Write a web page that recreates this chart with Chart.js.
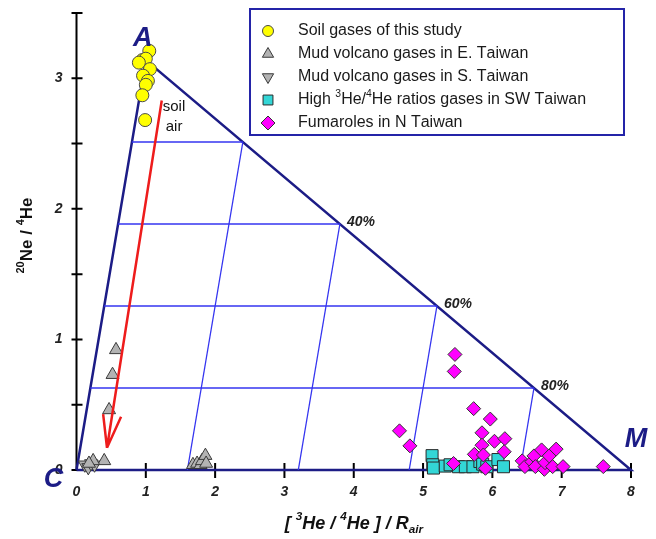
<!DOCTYPE html>
<html>
<head>
<meta charset="utf-8">
<script src="https://cdn.jsdelivr.net/npm/chart.js@4.4.0/dist/chart.umd.min.js"></script>
<style>
  html, body { margin: 0; padding: 0; background: #fff; }
</style>
</head>
<body>
<canvas id="neChart" width="656" height="539"></canvas>
<script>
// ---- data ----
const soilX = [1.05, 0.95, 1.00, 0.90, 1.06, 0.96, 1.03, 1.00, 0.95, 0.99];
const soilY = [3.21, 3.14, 3.15, 3.12, 3.07, 3.02, 2.98, 2.95, 2.87, 2.68];

const mudEastX = [0.57, 0.52, 0.47, 0.40, 0.24, 0.18, 1.68, 1.74, 1.79, 1.81, 1.86, 1.87];
const mudEastY = [0.92, 0.73, 0.46, 0.07, 0.07, 0.05, 0.04, 0.05, 0.04, 0.07, 0.11, 0.05];

const mudSouthX = [0.12, 0.17, 0.21, 0.26];
const mudSouthY = [0.04, 0.02, 0.05, 0.04];

const highHeX = [5.13, 5.14, 5.15, 5.32, 5.39, 5.51, 5.61, 5.72, 5.82, 5.86, 5.92, 6.08, 6.16];
const highHeY = [0.11, 0.04, 0.015, 0.03, 0.04, 0.025, 0.025, 0.025, 0.065, 0.045, 0.025, 0.08, 0.025];

const fumX = [5.46, 5.45, 5.73, 5.97, 4.66, 4.81, 5.85, 6.03, 6.18, 5.85, 6.17, 5.74, 5.87, 5.44,
              5.90, 6.43, 6.47, 6.57, 6.60, 6.62, 6.71, 6.75, 6.76, 6.82, 6.87, 6.92, 7.02, 7.60];
const fumY = [0.885, 0.755, 0.47, 0.39, 0.30, 0.185, 0.285, 0.22, 0.24, 0.19, 0.14, 0.12, 0.115, 0.05,
              0.013, 0.07, 0.026, 0.064, 0.108, 0.026, 0.154, 0.005, 0.056, 0.108, 0.026, 0.16, 0.026, 0.026];

// end members of the mixing triangle: air (A), crust (C), mantle (M)
const endA = [1, 3.14];
const endC = [0, 0];
const endM = [8, 0];
const mixFractions = [0.2, 0.4, 0.6, 0.8];
const pctLabels = ['40%', '60%', '80%'];   // on the A-M side, for M = 0.4, 0.6, 0.8

// soil air trend arrow
const arrowX = [1.23, 0.44];
const arrowY = [2.83, 0.17];

const xTicks = [0, 1, 2, 3, 4, 5, 6, 7, 8];
const yTicks = [0, 0.5, 1, 1.5, 2, 2.5, 3, 3.5];

// ---- helpers ----
const zip = (xs, ys) => xs.map((x, i) => ({ x: x, y: ys[i] }));
const mix = (a, m) => {
  const c = 1 - a - m;
  return { x: a * endA[0] + m * endM[0] + c * endC[0], y: a * endA[1] + m * endM[1] + c * endC[1] };
};

const NAVY = '#1c1c86';
const GRID = '#3434f0';
const FONT = '"Liberation Sans", Arial, sans-serif';

const lineSet = (pts, color, width) => ({
  type: 'scatter', data: pts, showLine: true, borderColor: color, borderWidth: width,
  pointRadius: 0, fill: false, order: 10, clip: false
});

const pointSets = [
  { label: 'Soil gases of this study', data: zip(soilX, soilY), pointStyle: 'circle',
    backgroundColor: '#ffff00', borderColor: '#4a4a4a', pointRadius: 6.5, order: 0 },
  { label: 'Mud volcano gases in E. Taiwan', data: zip(mudEastX, mudEastY), pointStyle: 'triangle',
    backgroundColor: '#b3b3b3', borderColor: '#3a3a3a', pointRadius: 7.5, order: 1 },
  { label: 'Mud volcano gases in S. Taiwan', data: zip(mudSouthX, mudSouthY), pointStyle: 'triangle',
    rotation: 180, backgroundColor: '#b3b3b3', borderColor: '#3a3a3a', pointRadius: 7.5, order: 1 },
  { label: 'High ³He/⁴He ratios gases in SW Taiwan', data: zip(highHeX, highHeY), pointStyle: 'rect',
    backgroundColor: '#33d6d6', borderColor: '#2a2a2a', pointRadius: 8.5, order: 2 },
  { label: 'Fumaroles in N Taiwan', data: zip(fumX, fumY), pointStyle: 'rectRot',
    backgroundColor: '#ff00ff', borderColor: '#333333', pointRadius: 7, order: 0 }
];
pointSets.forEach(d => { d.borderWidth = 1; d.clip = false; d.pointHoverRadius = d.pointRadius; });

const frameSets = [];
mixFractions.forEach(f => {
  frameSets.push(lineSet([mix(f, 0), mix(f, 1 - f)], GRID, 1.3));     // constant air fraction
  frameSets.push(lineSet([mix(0, f), mix(1 - f, f)], GRID, 1.3));     // constant mantle fraction
});
frameSets.push(lineSet([mix(0, 0), mix(1, 0), mix(0, 1), mix(0, 0)], NAVY, 2.5));

// draws text where unicode super/subscripts become small raised/lowered glyphs
const SUP = { '⁰': '0', '¹': '1', '²': '2', '³': '3', '⁴': '4', '⁵': '5', '⁶': '6', '⁷': '7', '⁸': '8', '⁹': '9' };
const SUB = { 'ₐ': 'a', 'ᵢ': 'i', 'ᵣ': 'r' };
function richText(ctx, str, x, y, size, style, draw) {
  let cx = x;
  for (const ch of str) {
    let t = ch, s = size, dy = 0;
    if (SUP[ch]) { t = SUP[ch]; s = size * 0.65; dy = -size * 0.38; }
    else if (SUB[ch]) { t = SUB[ch]; s = size * 0.65; dy = size * 0.3; }
    ctx.font = style + ' ' + s + 'px ' + FONT;
    if (draw) ctx.fillText(t, cx, y + dy);
    cx += ctx.measureText(t).width;
  }
  return cx - x;
}

const decorPlugin = {
  id: 'decor',
  beforeDatasetsDraw(chart) {
    const ctx = chart.ctx, xs = chart.scales.x, ys = chart.scales.y;
    const x0 = xs.getPixelForValue(0), y0 = ys.getPixelForValue(0);
    ctx.save();
    ctx.strokeStyle = '#000';
    ctx.lineWidth = 2;
    ctx.beginPath();
    ctx.moveTo(x0, ys.getPixelForValue(yTicks[yTicks.length - 1]));
    ctx.lineTo(x0, y0 + 1);
    yTicks.forEach(v => {
      const p = ys.getPixelForValue(v);
      ctx.moveTo(x0 - 5, p); ctx.lineTo(x0 + 6, p);
    });
    xTicks.forEach(v => {
      if (v === 0) return;
      const p = xs.getPixelForValue(v);
      ctx.moveTo(p, y0 - 7); ctx.lineTo(p, y0 + 8);
    });
    ctx.stroke();
    ctx.restore();
  },
  afterDatasetsDraw(chart) {
    const ctx = chart.ctx, xs = chart.scales.x, ys = chart.scales.y, area = chart.chartArea;
    const px = p => ({ x: xs.getPixelForValue(p.x), y: ys.getPixelForValue(p.y) });
    ctx.save();

    // corner letters
    ctx.fillStyle = NAVY;
    ctx.font = 'italic bold 27px ' + FONT;
    ctx.textAlign = 'center';
    ctx.textBaseline = 'middle';
    const pA = px(mix(1, 0)), pM = px(mix(0, 1)), pC = px(mix(0, 0));
    ctx.fillText('A', pA.x - 3, pA.y - 21);
    ctx.fillText('M', pM.x + 5, pM.y - 30);
    ctx.fillText('C', pC.x - 23, pC.y + 10);

    // percentage labels on the A-M side
    ctx.fillStyle = '#222';
    ctx.font = 'italic bold 14px ' + FONT;
    ctx.textAlign = 'left';
    pctLabels.forEach((lab, i) => {
      const f = mixFractions[i + 1];
      const p = px(mix(1 - f, f));
      ctx.fillText(lab, p.x + 7, p.y - 2);
    });

    // red arrow
    const s = px({ x: arrowX[0], y: arrowY[0] }), e = px({ x: arrowX[1], y: arrowY[1] });
    const ang = Math.atan2(s.y - e.y, s.x - e.x);
    ctx.strokeStyle = '#ee1c1c';
    ctx.lineWidth = 2.5;
    ctx.beginPath();
    ctx.moveTo(s.x, s.y); ctx.lineTo(e.x, e.y);
    [-0.27, 0.27].forEach(da => {
      ctx.moveTo(e.x, e.y);
      ctx.lineTo(e.x + 34 * Math.cos(ang + da), e.y + 34 * Math.sin(ang + da));
    });
    ctx.stroke();
    ctx.fillStyle = '#111';
    ctx.font = '15px ' + FONT;
    ctx.fillText('soil', s.x + 1, s.y + 6);
    ctx.fillText('air', s.x + 4, s.y + 26);

    // axis titles
    ctx.fillStyle = '#111';
    ctx.textAlign = 'left';
    const yTitle = '²⁰Ne / ⁴He';
    const wy = richText(ctx, yTitle, 0, 0, 17, 'bold', false);
    ctx.save();
    ctx.translate(area.left - 49, (area.top + area.bottom) / 2 - 6);
    ctx.rotate(-Math.PI / 2);
    richText(ctx, yTitle, -wy / 2, 0, 17, 'bold', true);
    ctx.restore();
    const xTitle = '[ ³He / ⁴He ] / Rₐᵢᵣ';
    const wx = richText(ctx, xTitle, 0, 0, 18, 'italic bold', false);
    richText(ctx, xTitle, 354 - wx / 2 + (area.left - 76.5), area.bottom + 54, 18, 'italic bold', true);

    // legend box
    const bx = area.right - 381, by = area.top - 4, bw = 374, bh = 126;
    ctx.fillStyle = '#fff';
    ctx.fillRect(bx, by, bw, bh);
    ctx.strokeStyle = '#2424a8';
    ctx.lineWidth = 2;
    ctx.strokeRect(bx, by, bw, bh);
    const legendRadius = [5.5, 6.5, 6.5, 7, 7];
    pointSets.forEach((d, i) => {
      const ry = by + 22 + i * 23;
      ctx.fillStyle = d.backgroundColor;
      ctx.strokeStyle = d.borderColor;
      ctx.lineWidth = 1;
      Chart.helpers.drawPoint(ctx, { pointStyle: d.pointStyle, rotation: d.rotation || 0,
        radius: legendRadius[i], borderWidth: 1 }, bx + 18, ry);
      ctx.fillStyle = '#1a1a1a';
      richText(ctx, d.label, bx + 48, ry, 16, 'normal', true);
    });
    ctx.restore();
  }
};

const tickFont = { family: FONT, size: 14, style: 'italic', weight: 'bold' };

new Chart(document.getElementById('neChart'), {
  type: 'scatter',
  data: { datasets: pointSets.concat(frameSets) },
  options: {
    responsive: false,
    animation: false,
    devicePixelRatio: 1,
    layout: { padding: { left: 0, right: 25, top: 13, bottom: 0 } },
    plugins: { legend: { display: false }, tooltip: { enabled: false } },
    scales: {
      x: {
        type: 'linear', min: 0, max: 8,
        afterBuildTicks: s => { s.ticks = xTicks.map(v => ({ value: v })); },
        afterFit: s => { s.height = 69; s.paddingLeft = 0; s.paddingRight = 0; },
        grid: { display: false, drawTicks: false },
        border: { display: false },
        ticks: { font: tickFont, color: '#222', padding: 14, maxRotation: 0 }
      },
      y: {
        type: 'linear', min: 0, max: 3.5,
        afterBuildTicks: s => { s.ticks = yTicks.map(v => ({ value: v })); },
        afterFit: s => { s.width = 76.5; s.paddingTop = 0; s.paddingBottom = 0; },
        grid: { display: false, drawTicks: false },
        border: { display: false },
        ticks: { font: tickFont, color: '#222', padding: 14,
                 callback: v => Number.isInteger(v) ? String(v) : '' }
      }
    }
  },
  plugins: [decorPlugin]
});
</script>
</body>
</html>
